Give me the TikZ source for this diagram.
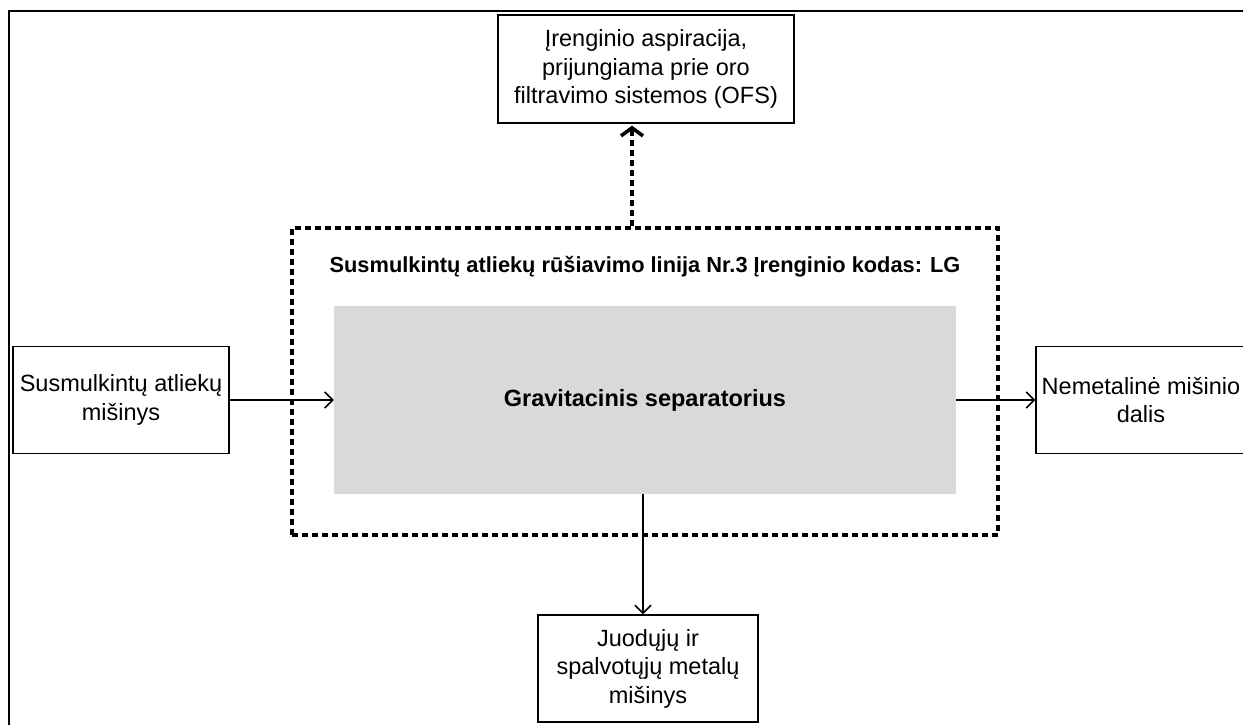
\documentclass[tikz,border=0pt]{standalone}
\usepackage{fontspec}
\setmainfont{Liberation Sans}
\usetikzlibrary{arrows.meta,calc}
\begin{document}
\begin{tikzpicture}[x=1pt,y=-1pt,
  every node/.style={font=\fontsize{23.5}{28.5}\selectfont},
  box/.style={draw=black,line width=1.3pt,rectangle,align=center,inner sep=0pt},
  arr/.style={line width=1.6pt,-{Straight Barb[length=8pt,width=16pt,line width=1.6pt]}},
  darr/.style={line width=3.4pt,dash pattern=on 6pt off 4pt,-{Straight Barb[length=8pt,width=22pt,line width=3.6pt]}},
  dbox/.style={draw=black,line width=3.4pt,dash pattern=on 6pt off 4pt,rectangle,inner sep=0pt}]
  \useasboundingbox (0,0) rectangle (1243,724);
  \clip (0,0) rectangle (1243,724);
  % page frame (top and left edges)
  \draw[line width=1.8pt] (9,730) -- (9,11) -- (1250,11);
  % sorting line enclosure and separator
  \node[dbox,minimum width=706pt,minimum height=307pt] (line) at (645,381.5) {};
  \node[fill=black!15,minimum width=622pt,minimum height=188pt,inner sep=0pt] (sep) at (645,400)
    {\textbf{Gravitacinis separatorius}};
  \node[font=\fontsize{21.8}{26}\selectfont\bfseries] (title) at (645,267)
    {Susmulkintų atliekų rūšiavimo linija Nr.3 Įrenginio kodas: LG};
  % inputs and outputs
  \node[box,minimum width=296pt,minimum height=108pt] (asp) at (646,69)
    {Įrenginio aspiracija,\\prijungiama prie oro\\filtravimo sistemos (OFS)};
  \node[box,minimum width=216pt,minimum height=107pt] (in) at (121,400)
    {Susmulkintų atliekų\\mišinys};
  \node[box,minimum width=210pt,minimum height=107pt] (out) at (1141,400)
    {Nemetalinė mišinio\\dalis};
  \node[box,minimum width=220pt,minimum height=107pt] (met) at (648,668.5)
    {Juodųjų ir\\spalvotųjų metalų\\mišinys};
  % flows
  \coordinate (sepout) at ($(sep.south)+(-2,0)$);
  \coordinate (lineout) at ($(line.north)+(-13,0)$);
  \draw[arr] (in.east) -- (in.east -| sep.west);
  \draw[arr] (sep.east) -- (sep.east -| out.west);
  \draw[arr] (sepout) -- (sepout |- met.north);
  \draw[darr] (lineout) -- ($(lineout |- asp.south)+(0,2)$);
\end{tikzpicture}
\end{document}
